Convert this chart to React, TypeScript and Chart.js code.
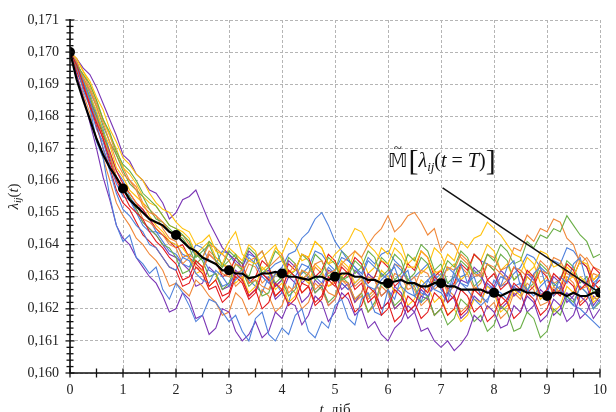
import React, { useEffect, useRef } from "react";
import { Chart, registerables } from "chart.js";

Chart.register(...registerables);

// time grid (days)
const T = [0, 0.125, 0.25, 0.375, 0.5, 0.625, 0.75, 0.875, 1, 1.125, 1.25, 1.375, 1.5, 1.625, 1.75, 1.875, 2, 2.125, 2.25, 2.375, 2.5, 2.625, 2.75, 2.875, 3, 3.125, 3.25, 3.375, 3.5, 3.625, 3.75, 3.875, 4, 4.125, 4.25, 4.375, 4.5, 4.625, 4.75, 4.875, 5, 5.125, 5.25, 5.375, 5.5, 5.625, 5.75, 5.875, 6, 6.125, 6.25, 6.375, 6.5, 6.625, 6.75, 6.875, 7, 7.125, 7.25, 7.375, 7.5, 7.625, 7.75, 7.875, 8, 8.125, 8.25, 8.375, 8.5, 8.625, 8.75, 8.875, 9, 9.125, 9.25, 9.375, 9.5, 9.625, 9.75, 9.875, 10];

// mean trajectory
const MEAN = [0.1700, 0.16915, 0.1685, 0.1679, 0.1673, 0.1668, 0.1664, 0.1661, 0.16575, 0.1654, 0.1652, 0.1650, 0.1648, 0.1647, 0.1646, 0.1644, 0.1643, 0.1641, 0.1639, 0.1638, 0.1636, 0.1635, 0.1634, 0.1632, 0.1632, 0.1631, 0.1631, 0.16295, 0.1630, 0.1631, 0.1631, 0.16315, 0.1631, 0.1630, 0.1630, 0.16295, 0.1629, 0.1630, 0.1630, 0.1629, 0.1630, 0.1631, 0.1631, 0.1630, 0.1630, 0.1629, 0.1629, 0.1628, 0.1628, 0.16285, 0.1629, 0.1628, 0.1628, 0.1627, 0.1627, 0.1628, 0.1628, 0.1627, 0.1627, 0.1626, 0.1626, 0.1626, 0.1626, 0.1625, 0.1625, 0.1624, 0.1625, 0.1626, 0.1626, 0.1625, 0.1625, 0.1624, 0.1624, 0.1625, 0.1625, 0.1624, 0.1625, 0.1624, 0.1624, 0.1625, 0.1625];

// sample trajectories
const B1 = [0.1700, 0.1696, 0.1688, 0.1683, 0.1672, 0.1667, 0.1655, 0.1646, 0.1641, 0.1643, 0.1636, 0.1634, 0.1631, 0.1633, 0.1626, 0.1623, 0.1628, 0.1625, 0.1621, 0.1616, 0.1618, 0.1623, 0.1622, 0.1619, 0.1616, 0.1618, 0.1613, 0.1610, 0.1617, 0.1619, 0.1612, 0.1610, 0.1614, 0.1612, 0.1618, 0.1620, 0.1613, 0.1611, 0.1616, 0.1614, 0.1621, 0.1623, 0.1617, 0.1615, 0.1623, 0.1625, 0.1619, 0.1618, 0.1626, 0.1623, 0.1630, 0.1632, 0.1624, 0.1622, 0.1629, 0.1631, 0.1626, 0.1624, 0.1632, 0.1634, 0.1628, 0.1630, 0.1624, 0.1622, 0.1629, 0.1627, 0.1633, 0.1635, 0.1627, 0.1625, 0.1631, 0.1633, 0.1626, 0.1624, 0.1630, 0.1628, 0.1634, 0.1636, 0.1628, 0.1626, 0.1631];
const B2 = [0.1700, 0.1697, 0.1691, 0.1685, 0.1678, 0.1670, 0.1663, 0.1656, 0.1651, 0.1649, 0.1646, 0.1644, 0.1640, 0.1639, 0.1636, 0.1633, 0.1632, 0.1636, 0.1635, 0.1631, 0.1629, 0.1628, 0.1632, 0.1630, 0.1627, 0.1629, 0.1631, 0.1636, 0.1634, 0.1630, 0.1628, 0.1631, 0.1633, 0.1637, 0.1638, 0.1642, 0.1644, 0.1648, 0.1650, 0.1646, 0.1641, 0.1638, 0.1635, 0.1633, 0.1630, 0.1627, 0.1626, 0.1629, 0.1631, 0.1633, 0.1627, 0.1625, 0.1624, 0.1627, 0.1629, 0.1626, 0.1625, 0.1622, 0.1630, 0.1628, 0.1626, 0.1623, 0.1621, 0.1623, 0.1626, 0.1625, 0.1623, 0.1627, 0.1628, 0.1626, 0.1624, 0.1627, 0.1629, 0.1628, 0.1626, 0.1623, 0.1621, 0.1627, 0.1625, 0.1620, 0.1623];
const B3 = [0.1700, 0.1695, 0.1689, 0.1683, 0.1676, 0.1672, 0.1665, 0.1659, 0.1655, 0.1654, 0.1650, 0.1646, 0.1644, 0.1644, 0.1641, 0.1638, 0.1637, 0.1634, 0.1633, 0.1637, 0.1636, 0.1632, 0.1631, 0.1627, 0.1628, 0.1631, 0.1632, 0.1629, 0.1627, 0.1625, 0.1630, 0.1628, 0.1625, 0.1622, 0.1629, 0.1631, 0.1633, 0.1630, 0.1628, 0.1633, 0.1631, 0.1628, 0.1626, 0.1628, 0.1630, 0.1635, 0.1633, 0.1631, 0.1629, 0.1634, 0.1632, 0.1629, 0.1628, 0.1625, 0.1624, 0.1627, 0.1629, 0.1633, 0.1631, 0.1628, 0.1627, 0.1632, 0.1630, 0.1627, 0.1626, 0.1630, 0.1629, 0.1626, 0.1625, 0.1630, 0.1628, 0.1625, 0.1623, 0.1626, 0.1627, 0.1624, 0.1621, 0.1620, 0.1618, 0.1616, 0.1614];
const B4 = [0.1700, 0.1697, 0.1692, 0.1687, 0.1681, 0.1676, 0.1669, 0.1663, 0.1660, 0.1655, 0.1652, 0.1651, 0.1648, 0.1644, 0.1643, 0.1641, 0.1640, 0.1637, 0.1636, 0.1640, 0.1639, 0.1635, 0.1634, 0.1638, 0.1637, 0.1634, 0.1633, 0.1637, 0.1636, 0.1631, 0.1632, 0.1634, 0.1635, 0.1632, 0.1630, 0.1634, 0.1633, 0.1638, 0.1637, 0.1634, 0.1632, 0.1636, 0.1635, 0.1633, 0.1631, 0.1636, 0.1634, 0.1637, 0.1638, 0.1635, 0.1633, 0.1628, 0.1630, 0.1632, 0.1634, 0.1629, 0.1631, 0.1628, 0.1627, 0.1630, 0.1631, 0.1637, 0.1635, 0.1634, 0.1632, 0.1627, 0.1628, 0.1631, 0.1633, 0.1637, 0.1636, 0.1633, 0.1631, 0.1635, 0.1634, 0.1639, 0.1638, 0.1635, 0.1633, 0.1628, 0.1630];
const O1 = [0.1700, 0.1697, 0.1692, 0.1688, 0.1683, 0.1678, 0.1672, 0.1666, 0.1662, 0.1660, 0.1657, 0.1652, 0.1650, 0.1649, 0.1647, 0.1644, 0.1642, 0.1643, 0.1640, 0.1637, 0.1636, 0.1640, 0.1639, 0.1637, 0.1635, 0.1631, 0.1632, 0.1635, 0.1636, 0.1638, 0.1633, 0.1635, 0.1637, 0.1631, 0.1634, 0.1629, 0.1631, 0.1634, 0.1635, 0.1631, 0.1632, 0.1634, 0.1636, 0.1638, 0.1636, 0.1640, 0.1643, 0.1645, 0.1649, 0.1644, 0.1646, 0.1649, 0.1650, 0.1647, 0.1643, 0.1645, 0.1638, 0.1641, 0.1640, 0.1636, 0.1634, 0.1631, 0.1630, 0.1634, 0.1633, 0.1631, 0.1629, 0.1633, 0.1632, 0.1630, 0.1628, 0.1632, 0.1631, 0.1636, 0.1635, 0.1631, 0.1630, 0.1626, 0.1627, 0.1631, 0.1630];
const O2 = [0.1700, 0.1694, 0.1690, 0.1684, 0.1679, 0.1673, 0.1668, 0.1661, 0.1658, 0.1656, 0.1653, 0.1648, 0.1647, 0.1645, 0.1643, 0.1640, 0.1639, 0.1634, 0.1636, 0.1633, 0.1632, 0.1637, 0.1635, 0.1631, 0.1630, 0.1634, 0.1633, 0.1628, 0.1629, 0.1627, 0.1626, 0.1631, 0.1630, 0.1625, 0.1627, 0.1632, 0.1631, 0.1626, 0.1628, 0.1625, 0.1624, 0.1629, 0.1628, 0.1623, 0.1625, 0.1630, 0.1629, 0.1624, 0.1626, 0.1631, 0.1630, 0.1626, 0.1627, 0.1632, 0.1631, 0.1626, 0.1628, 0.1633, 0.1632, 0.1637, 0.1635, 0.1630, 0.1631, 0.1637, 0.1636, 0.1632, 0.1633, 0.1639, 0.1638, 0.1643, 0.1641, 0.1645, 0.1644, 0.1648, 0.1647, 0.1642, 0.1640, 0.1634, 0.1636, 0.1633, 0.1632];
const O3 = [0.1700, 0.1693, 0.1687, 0.1681, 0.1673, 0.1667, 0.1660, 0.1653, 0.1649, 0.1646, 0.1642, 0.1640, 0.1637, 0.1635, 0.1632, 0.1627, 0.1628, 0.1626, 0.1624, 0.1629, 0.1627, 0.1624, 0.1622, 0.1618, 0.1619, 0.1625, 0.1623, 0.1618, 0.1620, 0.1626, 0.1624, 0.1619, 0.1621, 0.1627, 0.1625, 0.1620, 0.1622, 0.1628, 0.1626, 0.1621, 0.1623, 0.1629, 0.1627, 0.1622, 0.1624, 0.1619, 0.1621, 0.1627, 0.1625, 0.1620, 0.1622, 0.1628, 0.1626, 0.1621, 0.1623, 0.1618, 0.1620, 0.1626, 0.1624, 0.1619, 0.1621, 0.1627, 0.1625, 0.1620, 0.1622, 0.1617, 0.1619, 0.1625, 0.1623, 0.1628, 0.1626, 0.1621, 0.1622, 0.1627, 0.1625, 0.1630, 0.1628, 0.1622, 0.1624, 0.1628, 0.1626];
const O4 = [0.1700, 0.1696, 0.1693, 0.1689, 0.1684, 0.1679, 0.1674, 0.1668, 0.1664, 0.1660, 0.1658, 0.1653, 0.1651, 0.1649, 0.1645, 0.1642, 0.1641, 0.1636, 0.1637, 0.1635, 0.1633, 0.1638, 0.1636, 0.1634, 0.1632, 0.1627, 0.1629, 0.1634, 0.1633, 0.1628, 0.1630, 0.1624, 0.1626, 0.1632, 0.1630, 0.1625, 0.1627, 0.1633, 0.1631, 0.1627, 0.1628, 0.1634, 0.1632, 0.1627, 0.1629, 0.1623, 0.1625, 0.1631, 0.1629, 0.1634, 0.1633, 0.1628, 0.1630, 0.1624, 0.1626, 0.1632, 0.1630, 0.1625, 0.1627, 0.1633, 0.1631, 0.1626, 0.1628, 0.1634, 0.1632, 0.1627, 0.1629, 0.1624, 0.1626, 0.1631, 0.1630, 0.1635, 0.1633, 0.1628, 0.1629, 0.1634, 0.1632, 0.1637, 0.1635, 0.1629, 0.1631];
const Y1 = [0.1700, 0.1698, 0.1694, 0.1691, 0.1686, 0.1682, 0.1676, 0.1672, 0.1667, 0.1665, 0.1662, 0.1660, 0.1656, 0.1653, 0.1651, 0.1650, 0.1647, 0.1645, 0.1644, 0.1640, 0.1641, 0.1643, 0.1638, 0.1637, 0.1641, 0.1644, 0.1637, 0.1635, 0.1634, 0.1636, 0.1638, 0.1640, 0.1635, 0.1631, 0.1632, 0.1637, 0.1636, 0.1641, 0.1639, 0.1634, 0.1637, 0.1639, 0.1641, 0.1645, 0.1644, 0.1640, 0.1638, 0.1635, 0.1634, 0.1639, 0.1637, 0.1633, 0.1633, 0.1638, 0.1636, 0.1631, 0.1632, 0.1637, 0.1635, 0.1641, 0.1639, 0.1642, 0.1643, 0.1647, 0.1645, 0.1643, 0.1640, 0.1637, 0.1636, 0.1631, 0.1633, 0.1638, 0.1637, 0.1633, 0.1634, 0.1629, 0.1630, 0.1635, 0.1634, 0.1629, 0.1631];
const Y2 = [0.1700, 0.1697, 0.1692, 0.1686, 0.1682, 0.1675, 0.1671, 0.1664, 0.1661, 0.1657, 0.1655, 0.1653, 0.1649, 0.1646, 0.1644, 0.1641, 0.1640, 0.1639, 0.1636, 0.1631, 0.1632, 0.1627, 0.1629, 0.1634, 0.1633, 0.1628, 0.1630, 0.1625, 0.1627, 0.1633, 0.1631, 0.1626, 0.1628, 0.1622, 0.1624, 0.1630, 0.1628, 0.1634, 0.1632, 0.1627, 0.1629, 0.1635, 0.1633, 0.1628, 0.1630, 0.1624, 0.1626, 0.1632, 0.1630, 0.1625, 0.1627, 0.1621, 0.1623, 0.1629, 0.1627, 0.1622, 0.1624, 0.1618, 0.1620, 0.1616, 0.1618, 0.1623, 0.1622, 0.1627, 0.1625, 0.1619, 0.1621, 0.1626, 0.1624, 0.1630, 0.1628, 0.1623, 0.1625, 0.1619, 0.1621, 0.1627, 0.1625, 0.1630, 0.1628, 0.1622, 0.1624];
const Y3 = [0.1700, 0.1698, 0.1694, 0.1690, 0.1685, 0.1679, 0.1674, 0.1670, 0.1664, 0.1662, 0.1659, 0.1655, 0.1653, 0.1652, 0.1649, 0.1646, 0.1645, 0.1644, 0.1642, 0.1637, 0.1639, 0.1641, 0.1636, 0.1634, 0.1639, 0.1637, 0.1635, 0.1640, 0.1638, 0.1632, 0.1634, 0.1639, 0.1637, 0.1642, 0.1640, 0.1635, 0.1636, 0.1641, 0.1639, 0.1634, 0.1635, 0.1630, 0.1632, 0.1638, 0.1636, 0.1631, 0.1633, 0.1639, 0.1637, 0.1642, 0.1640, 0.1634, 0.1636, 0.1631, 0.1633, 0.1639, 0.1637, 0.1632, 0.1634, 0.1629, 0.1631, 0.1637, 0.1635, 0.1640, 0.1638, 0.1632, 0.1634, 0.1629, 0.1631, 0.1636, 0.1634, 0.1628, 0.1630, 0.1625, 0.1627, 0.1633, 0.1631, 0.1626, 0.1628, 0.1623, 0.1625];
const G1 = [0.1700, 0.1696, 0.1693, 0.1690, 0.1685, 0.1679, 0.1675, 0.1669, 0.1665, 0.1663, 0.1660, 0.1656, 0.1654, 0.1652, 0.1649, 0.1646, 0.1645, 0.1643, 0.1641, 0.1636, 0.1638, 0.1640, 0.1635, 0.1633, 0.1638, 0.1636, 0.1634, 0.1639, 0.1637, 0.1631, 0.1633, 0.1638, 0.1636, 0.1630, 0.1632, 0.1637, 0.1635, 0.1629, 0.1631, 0.1636, 0.1634, 0.1629, 0.1630, 0.1635, 0.1633, 0.1638, 0.1636, 0.1630, 0.1632, 0.1637, 0.1635, 0.1629, 0.1631, 0.1636, 0.1634, 0.1628, 0.1630, 0.1635, 0.1633, 0.1638, 0.1636, 0.1631, 0.1632, 0.1637, 0.1635, 0.1640, 0.1638, 0.1634, 0.1635, 0.1641, 0.1639, 0.1643, 0.1642, 0.1645, 0.1644, 0.1649, 0.1646, 0.1643, 0.1641, 0.1636, 0.1637];
const G2 = [0.1700, 0.1695, 0.1691, 0.1686, 0.1680, 0.1675, 0.1668, 0.1661, 0.1657, 0.1655, 0.1651, 0.1647, 0.1645, 0.1643, 0.1640, 0.1639, 0.1636, 0.1631, 0.1632, 0.1637, 0.1635, 0.1630, 0.1631, 0.1626, 0.1628, 0.1634, 0.1632, 0.1627, 0.1629, 0.1624, 0.1625, 0.1631, 0.1629, 0.1624, 0.1626, 0.1632, 0.1630, 0.1625, 0.1627, 0.1622, 0.1624, 0.1630, 0.1628, 0.1623, 0.1625, 0.1619, 0.1622, 0.1628, 0.1626, 0.1621, 0.1623, 0.1629, 0.1627, 0.1622, 0.1624, 0.1618, 0.1620, 0.1615, 0.1617, 0.1623, 0.1621, 0.1616, 0.1618, 0.1613, 0.1615, 0.1621, 0.1619, 0.1613, 0.1614, 0.1619, 0.1617, 0.1611, 0.1613, 0.1620, 0.1618, 0.1624, 0.1622, 0.1627, 0.1625, 0.1620, 0.1622];
const G3 = [0.1700, 0.1697, 0.1692, 0.1688, 0.1683, 0.1677, 0.1672, 0.1668, 0.1663, 0.1659, 0.1657, 0.1655, 0.1651, 0.1648, 0.1647, 0.1645, 0.1643, 0.1642, 0.1639, 0.1634, 0.1636, 0.1641, 0.1639, 0.1633, 0.1635, 0.1637, 0.1632, 0.1630, 0.1636, 0.1638, 0.1633, 0.1628, 0.1630, 0.1636, 0.1634, 0.1629, 0.1631, 0.1637, 0.1635, 0.1630, 0.1632, 0.1638, 0.1636, 0.1631, 0.1633, 0.1628, 0.1630, 0.1636, 0.1634, 0.1629, 0.1631, 0.1637, 0.1635, 0.1640, 0.1638, 0.1632, 0.1634, 0.1628, 0.1630, 0.1635, 0.1633, 0.1627, 0.1629, 0.1634, 0.1632, 0.1637, 0.1635, 0.1629, 0.1631, 0.1626, 0.1628, 0.1634, 0.1632, 0.1627, 0.1629, 0.1635, 0.1633, 0.1628, 0.1630, 0.1625, 0.1627];
const R1 = [0.1700, 0.1696, 0.1690, 0.1683, 0.1678, 0.1673, 0.1666, 0.1660, 0.1656, 0.1652, 0.1650, 0.1648, 0.1644, 0.1641, 0.1639, 0.1636, 0.1634, 0.1629, 0.1630, 0.1635, 0.1633, 0.1627, 0.1629, 0.1624, 0.1625, 0.1631, 0.1629, 0.1624, 0.1626, 0.1620, 0.1622, 0.1628, 0.1626, 0.1632, 0.1630, 0.1625, 0.1627, 0.1621, 0.1623, 0.1629, 0.1627, 0.1633, 0.1631, 0.1626, 0.1628, 0.1622, 0.1624, 0.1618, 0.1620, 0.1626, 0.1624, 0.1619, 0.1621, 0.1627, 0.1625, 0.1630, 0.1628, 0.1622, 0.1624, 0.1618, 0.1620, 0.1626, 0.1624, 0.1629, 0.1627, 0.1621, 0.1623, 0.1628, 0.1626, 0.1632, 0.1630, 0.1624, 0.1626, 0.1631, 0.1629, 0.1634, 0.1632, 0.1626, 0.1628, 0.1633, 0.1631];
const R2 = [0.1700, 0.1694, 0.1689, 0.1684, 0.1677, 0.1670, 0.1664, 0.1657, 0.1653, 0.1651, 0.1647, 0.1643, 0.1641, 0.1639, 0.1636, 0.1633, 0.1632, 0.1627, 0.1628, 0.1633, 0.1631, 0.1626, 0.1627, 0.1622, 0.1624, 0.1630, 0.1628, 0.1623, 0.1625, 0.1631, 0.1629, 0.1624, 0.1626, 0.1621, 0.1623, 0.1628, 0.1627, 0.1622, 0.1624, 0.1630, 0.1628, 0.1623, 0.1625, 0.1619, 0.1621, 0.1627, 0.1625, 0.1620, 0.1622, 0.1616, 0.1618, 0.1624, 0.1622, 0.1617, 0.1619, 0.1625, 0.1623, 0.1618, 0.1620, 0.1626, 0.1624, 0.1619, 0.1621, 0.1616, 0.1618, 0.1624, 0.1622, 0.1617, 0.1619, 0.1625, 0.1623, 0.1618, 0.1620, 0.1626, 0.1624, 0.1629, 0.1627, 0.1621, 0.1623, 0.1628, 0.1626];
const R3 = [0.1700, 0.1695, 0.1691, 0.1685, 0.1680, 0.1674, 0.1669, 0.1663, 0.1659, 0.1656, 0.1653, 0.1651, 0.1648, 0.1645, 0.1643, 0.1641, 0.1639, 0.1640, 0.1636, 0.1634, 0.1632, 0.1637, 0.1635, 0.1630, 0.1631, 0.1636, 0.1634, 0.1628, 0.1630, 0.1635, 0.1633, 0.1627, 0.1629, 0.1634, 0.1632, 0.1637, 0.1636, 0.1630, 0.1632, 0.1637, 0.1635, 0.1629, 0.1631, 0.1636, 0.1634, 0.1628, 0.1630, 0.1635, 0.1633, 0.1627, 0.1629, 0.1634, 0.1632, 0.1638, 0.1636, 0.1630, 0.1632, 0.1626, 0.1628, 0.1634, 0.1632, 0.1637, 0.1635, 0.1629, 0.1631, 0.1626, 0.1628, 0.1633, 0.1631, 0.1625, 0.1627, 0.1632, 0.1630, 0.1624, 0.1626, 0.1632, 0.1630, 0.1635, 0.1633, 0.1627, 0.1629];
const P1 = [0.1700, 0.1693, 0.1686, 0.1678, 0.1670, 0.1661, 0.1654, 0.1646, 0.1642, 0.1640, 0.1636, 0.1633, 0.1630, 0.1628, 0.1624, 0.1619, 0.1620, 0.1625, 0.1623, 0.1617, 0.1618, 0.1612, 0.1614, 0.1620, 0.1619, 0.1613, 0.1610, 0.1612, 0.1616, 0.1611, 0.1613, 0.1619, 0.1617, 0.1622, 0.1621, 0.1615, 0.1618, 0.1624, 0.1622, 0.1616, 0.1619, 0.1625, 0.1623, 0.1618, 0.1620, 0.1614, 0.1616, 0.1612, 0.1610, 0.1614, 0.1616, 0.1621, 0.1619, 0.1613, 0.1614, 0.1610, 0.1608, 0.1610, 0.1607, 0.1609, 0.1612, 0.1618, 0.1616, 0.1621, 0.1619, 0.1614, 0.1615, 0.1621, 0.1619, 0.1624, 0.1622, 0.1616, 0.1618, 0.1623, 0.1621, 0.1616, 0.1618, 0.1624, 0.1622, 0.1617, 0.1620];
const P2 = [0.1700, 0.1698, 0.1695, 0.1693, 0.1689, 0.1684, 0.1679, 0.1674, 0.1668, 0.1666, 0.1662, 0.1660, 0.1657, 0.1656, 0.1653, 0.1648, 0.1650, 0.1654, 0.1655, 0.1657, 0.1652, 0.1647, 0.1643, 0.1639, 0.1637, 0.1635, 0.1633, 0.1638, 0.1636, 0.1631, 0.1632, 0.1627, 0.1629, 0.1635, 0.1633, 0.1628, 0.1630, 0.1625, 0.1627, 0.1632, 0.1631, 0.1626, 0.1628, 0.1622, 0.1625, 0.1631, 0.1629, 0.1624, 0.1626, 0.1620, 0.1622, 0.1617, 0.1619, 0.1624, 0.1623, 0.1629, 0.1627, 0.1622, 0.1624, 0.1629, 0.1628, 0.1633, 0.1631, 0.1625, 0.1627, 0.1632, 0.1630, 0.1624, 0.1626, 0.1631, 0.1629, 0.1623, 0.1625, 0.1630, 0.1628, 0.1622, 0.1624, 0.1629, 0.1627, 0.1621, 0.1624];
const P3 = [0.1700, 0.1696, 0.1691, 0.1684, 0.1679, 0.1673, 0.1667, 0.1661, 0.1657, 0.1654, 0.1651, 0.1647, 0.1645, 0.1643, 0.1640, 0.1637, 0.1636, 0.1634, 0.1632, 0.1627, 0.1628, 0.1633, 0.1631, 0.1626, 0.1627, 0.1632, 0.1630, 0.1624, 0.1626, 0.1631, 0.1629, 0.1623, 0.1625, 0.1630, 0.1628, 0.1622, 0.1624, 0.1629, 0.1627, 0.1621, 0.1623, 0.1628, 0.1626, 0.1632, 0.1630, 0.1624, 0.1626, 0.1620, 0.1622, 0.1627, 0.1625, 0.1619, 0.1621, 0.1626, 0.1624, 0.1618, 0.1620, 0.1625, 0.1623, 0.1617, 0.1619, 0.1624, 0.1622, 0.1628, 0.1626, 0.1620, 0.1622, 0.1627, 0.1625, 0.1619, 0.1621, 0.1626, 0.1624, 0.1618, 0.1620, 0.1625, 0.1623, 0.1617, 0.1619, 0.1624, 0.1622];

const BLUE = "#4f80dc";
const ORANGE = "#f0883a";
const YELLOW = "#ffc20e";
const GREEN = "#6aae46";
const RED = "#e3191c";
const PURPLE = "#7a35b5";

const SAMPLES: [number[], string][] = [
  [R1, RED], [B1, BLUE], [Y1, YELLOW], [P1, PURPLE], [G1, GREEN], [O1, ORANGE],
  [B2, BLUE], [R2, RED], [O2, ORANGE], [G2, GREEN], [Y2, YELLOW], [P2, PURPLE],
  [O3, ORANGE], [B3, BLUE], [R3, RED], [G3, GREEN], [Y3, YELLOW], [P3, PURPLE],
  [O4, ORANGE], [B4, BLUE],
];

const X_MIN = 0, X_MAX = 10, X_STEP = 1, X_MINOR = 0.5;
const Y_MIN = 0.160, Y_MAX = 0.171, Y_STEP = 0.001, Y_MINOR = 0.0002;

const SERIF = "'Liberation Serif', 'Times New Roman', serif";

const toXY = (vals: number[]) =>
  vals.map((v, i) => ({ x: T[i], y: v })).filter((p) => p.x !== undefined);

function drawPieces(ctx: CanvasRenderingContext2D, pieces: { t: string; f: string; dy?: number }[], x: number, y: number, align: "left" | "center") {
  let total = 0;
  for (const p of pieces) { ctx.font = p.f; total += ctx.measureText(p.t).width; }
  let cx = align === "center" ? x - total / 2 : x;
  for (const p of pieces) {
    ctx.font = p.f;
    ctx.fillText(p.t, cx, y + (p.dy || 0));
    cx += ctx.measureText(p.t).width;
  }
}

const decorPlugin = {
  id: "decor",
  afterDraw(chart: any) {
    const { ctx, chartArea, scales } = chart;
    const x = scales.x, y = scales.y;
    const { left, right, top, bottom } = chartArea;
    ctx.save();
    ctx.strokeStyle = "#111";
    ctx.lineWidth = 1.6;
    ctx.setLineDash([]);
    ctx.beginPath();
    ctx.moveTo(left, top - 1);
    ctx.lineTo(left, bottom);
    ctx.lineTo(right, bottom);
    ctx.stroke();
    ctx.lineWidth = 1.3;
    const nY = Math.round((Y_MAX - Y_MIN) / Y_MINOR);
    for (let k = 0; k <= nY; k++) {
      const py = y.getPixelForValue(Y_MIN + k * Y_MINOR);
      const len = k % 5 === 0 ? 4.5 : 3.5;
      ctx.beginPath();
      ctx.moveTo(left - len, py);
      ctx.lineTo(left + len, py);
      ctx.stroke();
    }
    const nX = Math.round((X_MAX - X_MIN) / X_MINOR);
    for (let k = 0; k <= nX; k++) {
      const px = x.getPixelForValue(X_MIN + k * X_MINOR);
      ctx.beginPath();
      ctx.moveTo(px, bottom - 4.5);
      ctx.lineTo(px, bottom + 4.5);
      ctx.stroke();
    }
    // axis titles
    ctx.fillStyle = "#222";
    ctx.textBaseline = "alphabetic";
    ctx.save();
    ctx.translate(18, (top + bottom) / 2);
    ctx.rotate(-Math.PI / 2);
    drawPieces(ctx, [
      { t: "λ", f: `italic 15px ${SERIF}` },
      { t: "ij", f: `italic 10px ${SERIF}`, dy: 3 },
      { t: "(", f: `15px ${SERIF}` },
      { t: "t", f: `italic 15px ${SERIF}` },
      { t: ")", f: `15px ${SERIF}` },
    ], 0, 0, "center");
    ctx.restore();
    drawPieces(ctx, [
      { t: "t", f: `italic 15px ${SERIF}` },
      { t: ", діб", f: `15px ${SERIF}` },
    ], (left + right) / 2, 414, "center");

    // annotation
    ctx.fillStyle = "#111";
    const ax = x.getPixelForValue(6.0);
    const ay = y.getPixelForValue(0.16633);
    ctx.font = `19px 'DejaVu Sans', sans-serif`;
    const mW = ctx.measureText("𝕄").width;
    ctx.fillText("𝕄", ax, ay - 3);
    ctx.font = `15px ${SERIF}`;
    const tW = ctx.measureText("~").width;
    ctx.fillText("~", ax + (mW - tW) / 2, ay - 17);
    drawPieces(ctx, [
      { t: "[", f: `30px ${SERIF}`, dy: 3 },
      { t: "λ", f: `italic 20px ${SERIF}` },
      { t: "ij", f: `italic 13px ${SERIF}`, dy: 4 },
      { t: "(", f: `20px ${SERIF}` },
      { t: "t", f: `italic 20px ${SERIF}` },
      { t: " = ", f: `20px ${SERIF}` },
      { t: "T", f: `italic 20px ${SERIF}` },
      { t: ")", f: `20px ${SERIF}` },
      { t: "]", f: `30px ${SERIF}`, dy: 3 },
    ], ax + mW + 1, ay - 3, "left");

    ctx.strokeStyle = "#111";
    ctx.lineWidth = 1.5;
    ctx.beginPath();
    ctx.moveTo(x.getPixelForValue(7.03), y.getPixelForValue(0.16577));
    ctx.lineTo(x.getPixelForValue(10), y.getPixelForValue(MEAN[MEAN.length - 1]));
    ctx.stroke();
    ctx.restore();
  },
};

export default function App() {
  const ref = useRef<HTMLCanvasElement | null>(null);
  useEffect(() => {
    if (!ref.current) return;
    const datasets: any[] = [
      {
        data: toXY(MEAN),
        borderColor: "#000",
        borderWidth: 2.2,
        pointRadius: (c: any) => (T[c.dataIndex] % 1 === 0 ? 5 : 0),
        pointBackgroundColor: "#000",
        pointBorderWidth: 0,
        tension: 0,
      },
      ...SAMPLES.map(([vals, color]) => ({
        data: toXY(vals),
        borderColor: color,
        borderWidth: 1.1,
        pointRadius: 0,
        tension: 0,
      })),
    ];
    const chart = new Chart(ref.current, {
      type: "line",
      data: { datasets },
      plugins: [decorPlugin],
      options: {
        animation: false,
        responsive: false,
        layout: { padding: { top: 20, right: 8, left: 0, bottom: 0 } },
        plugins: { legend: { display: false }, tooltip: { enabled: false } },
        scales: {
          x: {
            type: "linear",
            min: X_MIN,
            max: X_MAX,
            afterFit: (s: any) => { s.height = 39; },
            ticks: {
              stepSize: X_STEP,
              padding: 9,
              color: "#222",
              maxRotation: 0,
              autoSkip: false,
              font: { family: SERIF, size: 14 },
            },
            grid: { color: "#b5b5b5", lineWidth: 1, drawTicks: false },
            border: { display: false, dash: [3, 2] },
          },
          y: {
            type: "linear",
            min: Y_MIN,
            max: Y_MAX,
            afterFit: (s: any) => { s.width = 70; },
            ticks: {
              stepSize: Y_STEP,
              padding: 11,
              color: "#222",
              font: { family: SERIF, size: 14 },
              callback: (v: any) => Number(v).toFixed(3).replace(".", ","),
            },
            grid: { color: "#b5b5b5", lineWidth: 1, drawTicks: false },
            border: { display: false, dash: [3, 2] },
          },
        },
      },
    });
    return () => chart.destroy();
  }, []);
  return (
    <div style={{ position: "fixed", left: 0, top: 0, width: 616, height: 412, background: "#fff" }}>
      <canvas ref={ref} width={616} height={412} style={{ display: "block" }} />
    </div>
  );
}
